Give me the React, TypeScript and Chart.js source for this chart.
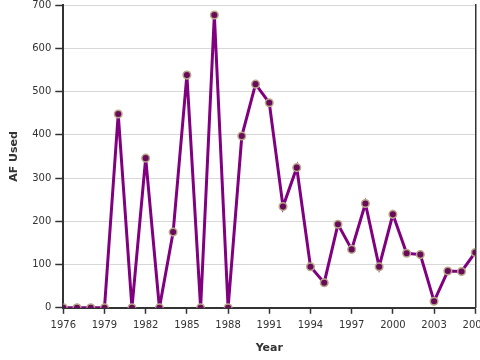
import React, { useEffect, useRef } from "react";
import { Chart, registerables } from "chart.js";

Chart.register(...registerables);

const years = [1976, 1977, 1978, 1979, 1980, 1981, 1982, 1983, 1984, 1985, 1986, 1987, 1988, 1989, 1990, 1991, 1992, 1993, 1994, 1995, 1996, 1997, 1998, 1999, 2000, 2001, 2002, 2003, 2004, 2005, 2006];
const afUsed = [0, 0, 0, 0, 448, 0, 346, 0, 175, 538, 0, 677, 0, 397, 517, 474, 234, 324, 95, 58, 193, 135, 241, 95, 216, 126, 123, 15, 85, 84, 128];
const xTicks = [1976, 1979, 1982, 1985, 1988, 1991, 1994, 1997, 2000, 2003, 2006];
const yTicks = [0, 100, 200, 300, 400, 500, 600, 700];

export default function App() {
  const ref = useRef<HTMLCanvasElement>(null);
  useEffect(() => {
    if (!ref.current) return;
    const font = { family: "DejaVu Sans", size: 10 };
    const chart = new Chart(ref.current, {
      type: "line",
      data: {
        datasets: [
          {
            data: years.map((y, i) => ({ x: y, y: afUsed[i] })),
            borderColor: "#800080",
            borderWidth: 3,
            pointRadius: 3.8,
            pointBackgroundColor: "#6a0a5a",
            pointBorderColor: "#b8a888",
            pointBorderWidth: 1.5,
            tension: 0,
          },
        ],
      },
      options: {
        animation: false,
        responsive: false,
        layout: { padding: { top: 0, left: 8, right: 0, bottom: 5 } },
        plugins: { legend: { display: false }, tooltip: { enabled: false } },
        scales: {
          x: {
            type: "linear",
            min: 1976,
            max: 2006,
            afterBuildTicks: (s: any) => {
              s.ticks = xTicks.map((v) => ({ value: v }));
            },
            ticks: {
              font,
              color: "#333",
              maxRotation: 0,
              autoSkip: false,
              callback: (v: any) => String(v),
              padding: 6,
            },
            grid: { drawOnChartArea: false, tickLength: 6, tickColor: "#333", tickWidth: 1.5 },
            border: { color: "#333", width: 2 },
            title: { display: true, text: "Year", font: { family: "DejaVu Sans", size: 11, weight: "bold" }, color: "#333", padding: { top: 4, bottom: 0 } },
          },
          y: {
            min: 0,
            max: 700,
            afterBuildTicks: (s: any) => {
              s.ticks = yTicks.map((v) => ({ value: v }));
            },
            ticks: { font, color: "#333", padding: 4 },
            grid: { color: "#d8d8d8", tickLength: 8, tickColor: "#333", tickWidth: 1.5 },
            border: { color: "#333", width: 2 },
            title: { display: true, text: "AF Used", font: { family: "DejaVu Sans", size: 11, weight: "bold" }, color: "#333", padding: { top: 0, bottom: 7 } },
          },
          y2: {
            position: "right",
            min: 0,
            max: 700,
            ticks: { display: false },
            grid: { display: false, drawTicks: false },
            border: { color: "#333", width: 1.5 },
          },
        },
      },
    } as any);
    return () => chart.destroy();
  }, []);
  return (
    <div style={{ position: "fixed", left: 0, top: 0, width: 480, height: 360, overflow: "hidden", background: "#fff" }}>
      <canvas ref={ref} width={494} height={365} style={{ display: "block", marginTop: -5 }} />
    </div>
  );
}
